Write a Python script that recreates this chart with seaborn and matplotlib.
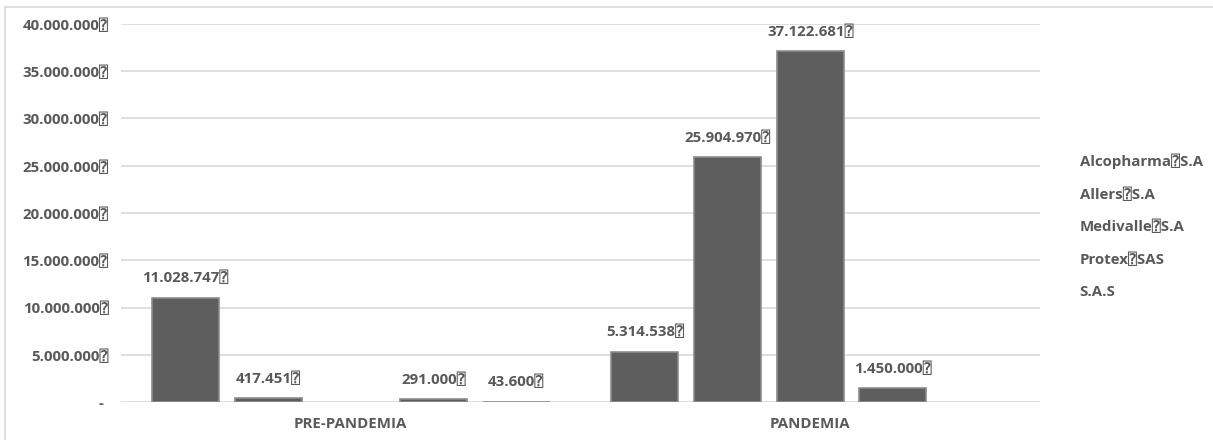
import matplotlib
matplotlib.use("Agg")
import matplotlib.pyplot as plt
from matplotlib.patches import Rectangle
import numpy as np
import pandas as pd
import seaborn as sns

# ---- data ----
categories = ["PRE-PANDEMIA", "PANDEMIA"]
companies = ["Alcopharma⍰S.A", "Allers⍰S.A", "Medivalle⍰S.A", "Protex⍰SAS", "S.A.S"]
pre_values = [11028747, 417451, np.nan, 291000, 43600]
pan_values = [5314538, 25904970, 37122681, 1450000, np.nan]
y_ticks = [0, 5000000, 10000000, 15000000, 20000000, 25000000, 30000000, 35000000, 40000000]

rows = []
for c, v in zip(companies, pre_values):
    rows.append({"periodo": categories[0], "empresa": c, "valor": v})
for c, v in zip(companies, pan_values):
    rows.append({"periodo": categories[1], "empresa": c, "valor": v})
df = pd.DataFrame(rows)

sns.set_theme(style="white")
FAM = ["Open Sans", "DejaVu Sans", "DejaVu Sans Mono"]
plt.rcParams["font.family"] = FAM
plt.rcParams["font.weight"] = "bold"

TXT = "#595959"
BAR = "#5e5e5e"
FS = 10.8

fig = plt.figure(figsize=(12.13, 4.40), dpi=100)
W, H = 1213, 440
ax = fig.add_axes([121 / W, 1 - 402 / H, (1040 - 121) / W, (402 - 24) / H])

sns.barplot(data=df, x="periodo", y="valor", hue="empresa", order=categories,
            hue_order=companies, palette=[BAR] * len(companies), width=0.9,
            gap=0.19, ax=ax, legend=True, saturation=1,
            edgecolor="#8c8c8c", linewidth=1.2, err_kws={"linewidth": 0})

def fmt(v):
    return f"{v:,.0f}".replace(",", ".") + "⍰"

for cont, c in zip(ax.containers, companies):
    labels = []
    for bar in cont:
        h = bar.get_height()
        labels.append("" if (h is None or np.isnan(h) or h == 0) else fmt(h))
    ax.bar_label(cont, labels=labels, padding=9, fontsize=FS, fontweight="bold",
                 color=TXT, family=FAM)

ax.set_ylim(0, 40000000)
ax.set_yticks(y_ticks)
ax.set_yticklabels(["-"] + [fmt(t) for t in y_ticks[1:]])
ax.yaxis.grid(True, color="#d9d9d9", linewidth=1.2)
ax.set_axisbelow(True)
for s in ax.spines.values():
    s.set_visible(False)
ax.tick_params(axis="y", length=0, pad=9, labelsize=FS, labelcolor=TXT)
ax.tick_params(axis="x", length=0, pad=11, labelsize=FS, labelcolor=TXT)
ylabs = ax.get_yticklabels()
for lab in ylabs:
    lab.set_horizontalalignment("right")
    lab.set_fontweight("bold")
    lab.set_family(FAM)
# the zero label "-" sits a little left of the label ends, as in accounting format
ylabs[0].set_horizontalalignment("center")
ylabs[0].set_x(-0.008)
for lab in ax.get_xticklabels():
    lab.set_fontweight("bold")
    lab.set_family(FAM)
ax.set_xlabel("")
ax.set_ylabel("")

handles, labels = ax.get_legend_handles_labels()
leg = fig.legend(handles, labels, loc="upper left",
                 bbox_to_anchor=(1066 / W, 1 - 140 / H), frameon=False,
                 handlelength=0, handletextpad=0, labelspacing=1.2,
                 fontsize=FS, labelcolor=TXT)
for t in leg.get_texts():
    t.set_fontweight("bold")
    t.set_family(FAM)
for hnd in leg.legend_handles:
    hnd.set_visible(False)
if ax.get_legend() is not None:
    ax.get_legend().remove()

# outer chart border (left and top visible)
fig.patches.append(Rectangle((5 / W, -0.1), 1.2, (1 - 7 / H) + 0.1,
                             transform=fig.transFigure, fill=False,
                             edgecolor="#d9d9d9", linewidth=1.2))

fig.savefig("out.png", dpi=100)
